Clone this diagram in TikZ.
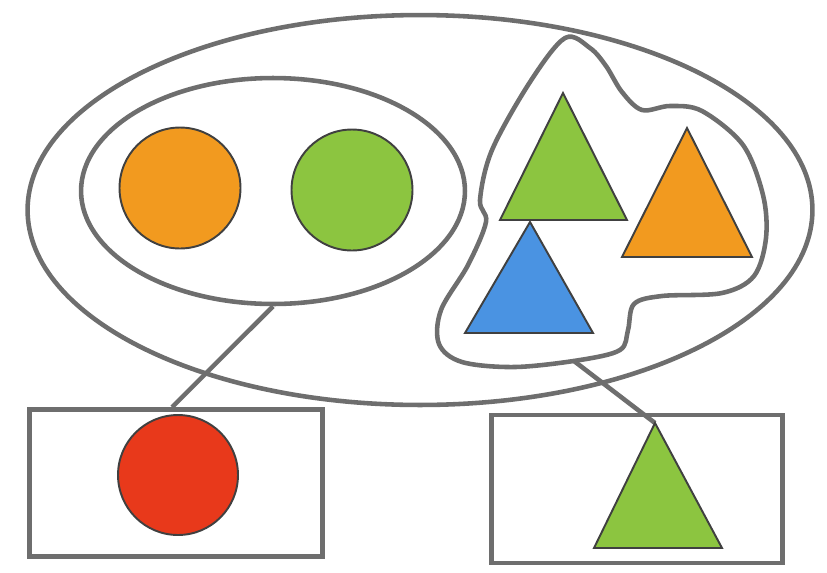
\documentclass[tikz,border=0pt]{standalone}
\usepackage{xcolor}
\usepackage{tikz}
\usetikzlibrary{shapes.geometric}

\definecolor{rimgray}{HTML}{6E6E6E}
\definecolor{leafgreen}{HTML}{8CC540}
\definecolor{sunorange}{HTML}{F29A1F}
\definecolor{skyblue}{HTML}{4A93E2}
\definecolor{firered}{HTML}{E8391B}

\begin{document}
\begin{tikzpicture}[
    x=0.02cm, y=-0.02cm,
    ring/.style={
        ellipse,
        draw=rimgray,
        line width=2.6pt,
        inner sep=0pt
    },
    dot/.style={
        circle,
        draw=black!75,
        line width=1.1pt,
        minimum size=2.42cm,
        inner sep=0pt
    },
    box/.style={
        rectangle,
        draw=rimgray,
        line width=2.6pt,
        inner sep=0pt
    },
    tri/.style={draw=black!75, line width=1.1pt, line join=miter},
    link/.style={draw=rimgray, line width=2.6pt}
]
\useasboundingbox (0,0) rectangle (827,572);

% the whole set and the set of circles
\node[ring, minimum width=15.7cm, minimum height=7.8cm] (whole) at (420,210) {};
\node[ring, minimum width=7.68cm, minimum height=4.52cm] (pair) at (273,191) {};

% the set of triangles
\draw[link] plot[smooth cycle, tension=0.55] coordinates {
    (565,38) (590,48) (606,66) (622,92) (642,110) (670,106) (702,111)
    (743,145) (763,195) (766,238) (754,276) (722,293) (662,296) (634,304)
    (628,330) (620,350) (580,360) (515,367) (462,362) (439,344) (441,310)
    (468,265) (486,222) (480,200) (492,150) (530,82)};
\coordinate (blobfoot) at (574,361);

% the two boxes
\node[box, minimum width=5.86cm, minimum height=2.94cm] (dotbox) at (176,483) {};
\node[box, minimum width=5.82cm, minimum height=2.96cm] (tribox) at (637,489) {};
\coordinate (bigtip) at (655,423);

\draw[link] (pair.south) -- (dotbox.north -| 172,0);
\draw[link] (blobfoot) -- (bigtip);

% circles
\node[dot, fill=sunorange] (orangedot) at (180,188) {};
\node[dot, fill=leafgreen] (greendot) at (352,190) {};
\node[dot, fill=firered, minimum size=2.4cm] (reddot) at (178,475) {};

% triangles
\filldraw[tri, fill=leafgreen] (563,93) -- (500,220) -- (627,220) -- cycle;
\filldraw[tri, fill=sunorange] (687,128) -- (622,257) -- (752,257) -- cycle;
\filldraw[tri, fill=skyblue] (530,222) -- (465,333) -- (593,333) -- cycle;
\filldraw[tri, fill=leafgreen] (bigtip) -- (594,548) -- (722,548) -- cycle;
\end{tikzpicture}
\end{document}
